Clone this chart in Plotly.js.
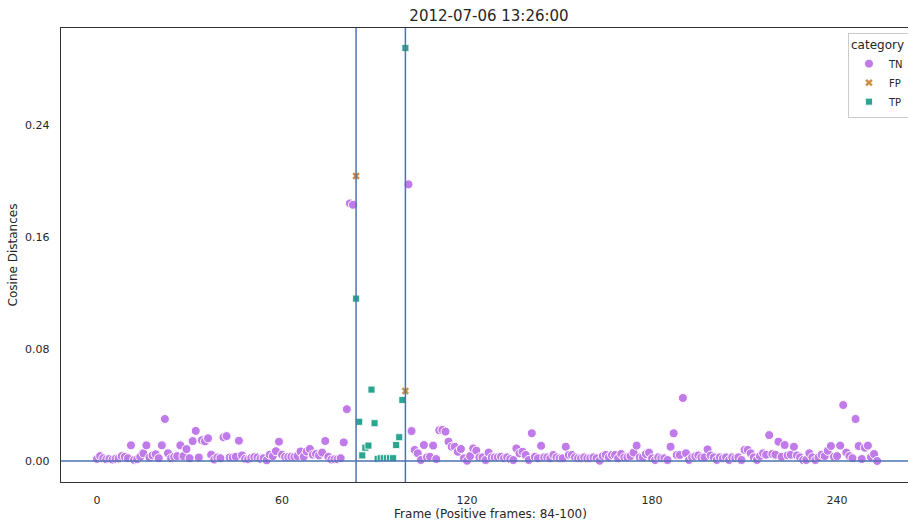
<!DOCTYPE html>
<html>
<head>
<meta charset="utf-8">
<script src="https://cdn.plot.ly/plotly-3.0.1.min.js"></script>
<style>html,body{margin:0;padding:0;background:#fff;overflow:hidden;}#wrap{width:908px;height:521px;overflow:hidden;}#chart{width:920px;height:521px;}</style>
</head>
<body>
<div id="wrap"><div id="chart"></div></div>
<script>
// ---- data ----
const chartTitle = "2012-07-06 13:26:00";
const xTitle = "Frame (Positive frames: 84-100)";
const yTitle = "Cosine Distances";
const categories = ["TN", "FP", "TP"];

// TN values for frames 0..83
const tnStartA = 0;
const tnValuesA = [0.0015,0.0035,0.002,0.0012,0.0015,0.001,0.0015,0.0018,0.0035,0.003,
 0.002,0.0112,0.0008,0.0012,0.003,0.0055,0.0112,0.0025,0.004,0.0048,
 0.002,0.0112,0.030,0.0055,0.002,0.003,0.0035,0.0112,0.0035,0.0085,
 0.002,0.0142,0.0215,0.0025,0.0148,0.014,0.0162,0.0045,0.001,0.0025,
 0.002,0.017,0.0178,0.0025,0.0025,0.003,0.0145,0.004,0.0015,0.0012,
 0.0022,0.0028,0.0025,0.0015,0.002,0.0005,0.0045,0.0035,0.007,0.0138,
 0.0045,0.003,0.0028,0.003,0.003,0.0035,0.0068,0.003,0.0068,0.0086,
 0.0045,0.005,0.004,0.006,0.0143,0.003,0.001,0.0012,0.0012,0.002,
 0.0133,0.037,0.184,0.183];
// TN values for frames 101..253
const tnStartB = 101;
const tnValuesB = [0.1976,0.0214,0.0079,0.0055,0.0007,0.0114,0.0026,0.003,0.011,0.0014,
 0.022,0.0222,0.021,0.0138,0.0102,0.0102,0.0066,0.0086,0.0019,0.0002,
 0.0035,0.009,0.0074,0.0026,0.0026,0.0007,0.006,0.0026,0.0026,0.0026,
 0.003,0.0019,0.0026,0.0014,0.0007,0.009,0.0055,0.0066,0.0043,0.0007,
 0.0198,0.003,0.0019,0.0109,0.0026,0.0026,0.0019,0.0043,0.0026,0.0019,
 0.0019,0.0102,0.0043,0.0043,0.0026,0.0019,0.0019,0.0026,0.0019,0.0019,
 0.0026,0.0019,0.0002,0.0035,0.0043,0.0026,0.0043,0.0043,0.0019,0.005,
 0.0026,0.0026,0.0035,0.006,0.011,0.0026,0.0026,0.005,0.006,0.0019,
 0.0007,0.0026,0.0019,0.0019,0.0007,0.0102,0.0198,0.0043,0.0043,0.045,
 0.0055,0.0007,0.0026,0.0033,0.004,0.0026,0.0026,0.0083,0.004,0.0026,
 0.0007,0.0026,0.0019,0.0026,0.0007,0.0026,0.0019,0.0026,0.0007,0.0079,
 0.0079,0.0055,0.0026,0.0007,0.0035,0.0055,0.0045,0.0185,0.005,0.0045,
 0.0138,0.003,0.0114,0.004,0.0045,0.0102,0.004,0.0026,0.0007,0.0007,
 0.0055,0.0026,0.0007,0.0026,0.0045,0.0035,0.0073,0.0107,0.003,0.0035,
 0.011,0.040,0.006,0.0035,0.002,0.030,0.0107,0.0014,0.0095,0.011,
 0.0027,0.005,0.0];

const fpFrames = [84, 100];
const fpValues = [0.2036, 0.050];

const tpStart = 84;
const tpValues = [0.116,0.028,0.004,0.0095,0.011,0.051,0.027,0.0015,0.002,0.002,
 0.002,0.002,0.002,0.0114,0.017,0.0436,0.295];

const positiveBounds = [84, 100];
const baselineY = 0;
const xTicks = [0, 60, 120, 180, 240];
const yTicks = [0.00, 0.08, 0.16, 0.24];
const yTickText = ["0.00", "0.08", "0.16", "0.24"];

// ---- build ----
const tnX = [], tnY = [];
tnValuesA.forEach((v, i) => { tnX.push(tnStartA + i); tnY.push(v); });
tnValuesB.forEach((v, i) => { tnX.push(tnStartB + i); tnY.push(v); });
const tpX = tpValues.map((v, i) => tpStart + i);

const colors = {TN: "#c17ae9", FP: "#d08a3c", TP: "#2ba58f"};
const font = "DejaVu Sans, sans-serif";

const traces = [
  {type: "scatter", mode: "markers", name: "TN", x: tnX, y: tnY,
   marker: {symbol: "circle", size: 9, color: colors.TN, line: {color: "#ffffff", width: 1}}},
  {type: "scatter", mode: "markers", name: "FP", x: fpFrames, y: fpValues,
   marker: {symbol: "x", size: 7, color: colors.FP, line: {color: "#ffffff", width: 0.5}}},
  {type: "scatter", mode: "markers", name: "TP", x: tpX, y: tpValues,
   marker: {symbol: "square", size: 7, color: colors.TP, line: {color: "#ffffff", width: 0.8}}}
];

const lineColor = "#4c72b0";
const shapes = positiveBounds.map(b => ({
  type: "line", xref: "x", yref: "paper", x0: b, x1: b, y0: 0, y1: 1,
  line: {color: lineColor, width: 1.5}, layer: "above"
}));
shapes.push({type: "line", xref: "paper", yref: "y", x0: 0, x1: 1, y0: baselineY, y1: baselineY,
  line: {color: lineColor, width: 1.5}, layer: "above"});

const layout = {
  width: 920, height: 521,
  margin: {l: 61, r: 0, t: 28, b: 39, pad: 0},
  paper_bgcolor: "#ffffff", plot_bgcolor: "#ffffff",
  font: {family: font, size: 11, color: "#262626"},
  title: {text: chartTitle, font: {family: font, size: 15, color: "#262626"}, x: 489/920, xanchor: "center", y: 0.98, yanchor: "top"},
  xaxis: {range: [-11.7, -11.7 + 859/3.0833], tickvals: xTicks, ticktext: xTicks.map(String), ticks: "", showgrid: false, zeroline: false,
    showline: true, mirror: true, linecolor: "#333333", linewidth: 1.2, ticklabelstandoff: 8,
    tickfont: {size: 11, color: "#262626"},
    title: {text: xTitle, font: {size: 12, color: "#262626"}, standoff: 4}},
  yaxis: {range: [-0.015, 0.3093], tickvals: yTicks, ticktext: yTickText, ticks: "", showgrid: false, zeroline: false,
    showline: true, mirror: true, linecolor: "#333333", linewidth: 1.2, ticklabelstandoff: 8,
    tickfont: {size: 11, color: "#262626"},
    title: {text: yTitle, font: {size: 12, color: "#262626"}, standoff: 4}},
  shapes: shapes,
  showlegend: true,
  legend: {x: (848 - 61) / 859, xanchor: "left", y: 0.99, yanchor: "top", bgcolor: "rgba(255,255,255,0.9)",
    bordercolor: "#cccccc", borderwidth: 1, font: {size: 10, color: "#262626"},
    title: {text: "category", font: {size: 12, color: "#262626"}}, itemsizing: "trace", tracegroupgap: 0}
};

Plotly.newPlot("chart", traces, layout, {displayModeBar: false, staticPlot: true});
</script>
</body>
</html>
